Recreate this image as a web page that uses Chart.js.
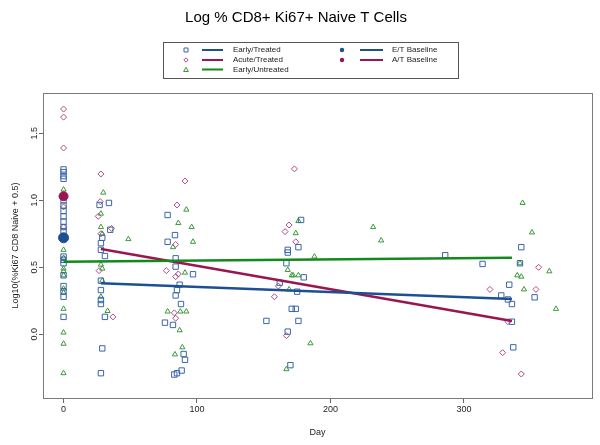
<!DOCTYPE html>
<html>
<head>
<meta charset="utf-8">
<script src="https://cdn.jsdelivr.net/npm/chart.js@4.4.0/dist/chart.umd.min.js"></script>
<style>
  html, body { margin: 0; padding: 0; background: #fff; }
</style>
</head>
<body>
<canvas id="c" width="600" height="445"></canvas>
<script>
// Early/Treated (blue squares)
const etDays = [0,0,0,0,0,0,0,0,0,0,0,0,0,0,0,0,0,0,0,
  27,34,35,29,28,28,31,28,28,28,28,31,29,28,
  78,83.5,78,84,84,97,87,85,84,88,76,82,90,91,88.5,85,83,
  178,176,168,168,167,180,162,175,171,174,152,176,168,170,
  286,314,342,343,334,328,353,333,336,336,337];
const etVals = [1.23,1.21,1.18,1.16,1.00,0.96,0.92,0.88,0.84,0.80,0.77,0.58,0.556,0.53,0.44,0.36,0.32,0.28,0.13,
  0.965,0.98,0.78,0.72,0.68,0.63,0.584,0.40,0.33,0.256,0.226,0.13,-0.105,-0.29,
  0.89,0.74,0.69,0.567,0.505,0.448,0.37,0.33,0.29,0.226,0.087,0.07,-0.147,-0.19,-0.27,-0.29,-0.30,
  0.853,0.65,0.63,0.61,0.53,0.425,0.385,0.318,0.19,0.19,0.10,0.10,0.02,-0.23,
  0.59,0.525,0.53,0.65,0.37,0.29,0.276,0.26,0.226,0.094,-0.097];

// Acute/Treated (red diamonds)
const atDays = [0,0,0,0,0,0,
  28,27.5,26,36,28,26.6,37,
  91,85,84,77,86,84,83,84,
  173,169,166,174,161,158,167,
  356,319.5,354,333,329,343];
const atVals = [1.68,1.62,1.39,1.03,0.95,0.80,
  1.196,0.99,0.88,0.79,0.75,0.475,0.13,
  1.144,0.965,0.67,0.475,0.45,0.43,0.16,0.12,
  1.234,0.815,0.766,0.69,0.36,0.28,-0.01,
  0.50,0.335,0.335,0.094,-0.137,-0.296];

// Early/Untreated (green triangles)
const euDays = [0,0,0,0,0,0,0,0,0,0,0,0,
  29.8,28,28,29,48.6,28,29,29,28,33,
  92,86,96,97,82,91,78,87.5,92,87,89,83.5,
  176,174,188,168,171,172,176,169,185,167,
  232,238,344,351,342,364,340,343,345,369];
const euVals = [1.08,0.63,0.57,0.49,0.47,0.44,0.34,0.31,0.19,0.013,-0.07,-0.29,
  1.057,0.90,0.80,0.75,0.71,0.52,0.49,0.40,0.28,0.174,
  0.93,0.83,0.80,0.69,0.65,0.46,0.17,0.17,0.17,0.03,-0.097,-0.15,
  0.845,0.754,0.58,0.48,0.44,0.44,0.44,0.335,-0.067,-0.26,
  0.80,0.70,0.98,0.76,0.53,0.47,0.44,0.43,0.335,0.19];

// fitted lines
const euFitDays = [0, 336];
const euFitVals = [0.542, 0.572];
const etFitDays = [28, 336];
const etFitVals = [0.38, 0.263];
const atFitDays = [28, 336];
const atFitVals = [0.637, 0.10];

// baselines
const etBaseline = [0, 0.72];
const atBaseline = [0, 1.03];

const xTicks = [0, 100, 200, 300];
const yTicks = [0, 0.5, 1.0, 1.5];

const legendLabels = ['Early/Treated', 'Acute/Treated', 'Early/Untreated'];
const baselineLabels = ['E/T Baseline', 'A/T Baseline'];

const BLUE = '#1d4f93', BLUE_PT = '#3b66a8';
const RED = '#9a1650', RED_PT = '#b04a86';
const GREEN = '#12891b', GREEN_PT = '#3a9a3a';
const FONT = '"Liberation Sans", Arial, sans-serif';

const toXY = (xs, ys) => xs.map((x, i) => ({ x: x, y: ys[i] }));

// frame around plot area + hand drawn legend box
const frameAndLegend = {
  id: 'frameAndLegend',
  afterDatasetsDraw(chart) {
    const { ctx, chartArea: a } = chart;
    ctx.save();
    ctx.strokeStyle = '#7a7a7a';
    ctx.lineWidth = 1;
    ctx.strokeRect(Math.round(a.left) + 0.5, Math.round(a.top) + 0.5,
      Math.round(a.right - a.left), Math.round(a.bottom - a.top));
    ctx.restore();
  },
  afterDraw(chart) {
    const ctx = chart.ctx;
    ctx.save();
    ctx.strokeStyle = '#555';
    ctx.lineWidth = 1;
    ctx.strokeRect(163.5, 42.5, 295, 36);

    const rows = [50, 60, 69.5];
    const styles = [
      { c: BLUE_PT, lc: BLUE, s: 'rect' },
      { c: RED_PT, lc: RED, s: 'rectRot' },
      { c: GREEN_PT, lc: GREEN, s: 'triangle' }
    ];
    ctx.font = '8px ' + FONT;
    ctx.textBaseline = 'middle';
    legendLabels.forEach((lab, i) => {
      const y = rows[i];
      const st = styles[i];
      // marker
      ctx.strokeStyle = st.c;
      ctx.lineWidth = 1;
      ctx.beginPath();
      if (st.s === 'rect') ctx.rect(184, y - 2, 4, 4);
      if (st.s === 'rectRot') { ctx.moveTo(186, y - 2.2); ctx.lineTo(188.2, y); ctx.lineTo(186, y + 2.2); ctx.lineTo(183.8, y); ctx.closePath(); }
      if (st.s === 'triangle') { ctx.moveTo(186, y - 2.2); ctx.lineTo(188.4, y + 2); ctx.lineTo(183.6, y + 2); ctx.closePath(); }
      ctx.stroke();
      // line sample
      ctx.strokeStyle = st.lc;
      ctx.lineWidth = 2;
      ctx.beginPath();
      ctx.moveTo(202, y); ctx.lineTo(223, y);
      ctx.stroke();
      ctx.fillStyle = '#222';
      ctx.fillText(lab, 233, y);
    });
    const bcol = [BLUE, RED];
    baselineLabels.forEach((lab, i) => {
      const y = rows[i];
      ctx.fillStyle = bcol[i];
      ctx.beginPath();
      ctx.arc(342, y, 2.2, 0, Math.PI * 2);
      ctx.fill();
      ctx.strokeStyle = bcol[i];
      ctx.lineWidth = 2;
      ctx.beginPath();
      ctx.moveTo(360, y); ctx.lineTo(383, y);
      ctx.stroke();
      ctx.fillStyle = '#222';
      ctx.fillText(lab, 392, y);
    });
    ctx.restore();
  }
};

new Chart(document.getElementById('c'), {
  type: 'scatter',
  data: {
    datasets: [
      { label: 'E/T Baseline', data: [{ x: etBaseline[0], y: etBaseline[1] }], order: 0,
        pointStyle: 'circle', pointRadius: 5, backgroundColor: BLUE, borderColor: BLUE },
      { label: 'A/T Baseline', data: [{ x: atBaseline[0], y: atBaseline[1] }], order: 0,
        pointStyle: 'circle', pointRadius: 4.5, backgroundColor: RED, borderColor: RED },
      { type: 'line', label: 'Early/Untreated fit', data: toXY(euFitDays, euFitVals), order: 1,
        borderColor: GREEN, borderWidth: 2.5, pointRadius: 0, fill: false },
      { type: 'line', label: 'Early/Treated fit', data: toXY(etFitDays, etFitVals), order: 1,
        borderColor: BLUE, borderWidth: 2.5, pointRadius: 0, fill: false },
      { type: 'line', label: 'Acute/Treated fit', data: toXY(atFitDays, atFitVals), order: 1,
        borderColor: RED, borderWidth: 2.5, pointRadius: 0, fill: false },
      { label: 'Early/Treated', data: toXY(etDays, etVals), order: 2,
        pointStyle: 'rect', pointRadius: 3.8, borderWidth: 1, borderColor: BLUE_PT, backgroundColor: 'rgba(0,0,0,0)' },
      { label: 'Acute/Treated', data: toXY(atDays, atVals), order: 2,
        pointStyle: 'rectRot', pointRadius: 3, borderWidth: 1, borderColor: RED_PT, backgroundColor: 'rgba(0,0,0,0)' },
      { label: 'Early/Untreated', data: toXY(euDays, euVals), order: 2,
        pointStyle: 'triangle', pointRadius: 3, borderWidth: 1, borderColor: GREEN_PT, backgroundColor: 'rgba(0,0,0,0)' }
    ]
  },
  options: {
    responsive: false,
    animation: false,
    layout: { padding: { left: 0, right: 8, top: 0, bottom: 0 } },
    plugins: {
      legend: { display: false },
      tooltip: { enabled: false },
      title: {
        display: true,
        text: 'Log % CD8+ Ki67+ Naive T Cells',
        color: '#000',
        font: { family: FONT, size: 15, weight: 'normal', lineHeight: 1.2 },
        padding: { top: 9, bottom: 66 }
      }
    },
    scales: {
      x: {
        type: 'linear',
        min: -15.4,
        max: 396,
        afterFit: (s) => { s.height = 47; },
        afterBuildTicks: (s) => { s.ticks = xTicks.map(v => ({ value: v })); },
        border: { display: false },
        grid: { drawOnChartArea: false, drawTicks: true, tickLength: 5, color: '#666' },
        ticks: { color: '#222', font: { family: FONT, size: 9 }, padding: 1, maxRotation: 0 },
        title: { display: true, text: 'Day', color: '#222', font: { family: FONT, size: 9 }, padding: { top: 0, bottom: 7 } }
      },
      y: {
        type: 'linear',
        min: -0.475,
        max: 1.80,
        afterFit: (s) => { s.width = 43; },
        afterBuildTicks: (s) => { s.ticks = yTicks.map(v => ({ value: v })); },
        border: { display: false },
        grid: { drawOnChartArea: false, drawTicks: true, tickLength: 4, color: '#666' },
        ticks: {
          color: '#222', font: { family: FONT, size: 9 }, padding: -2,
          minRotation: 90, maxRotation: 90, crossAlign: 'center',
          callback: (v) => Number(v).toFixed(1)
        },
        title: { display: true, text: 'Log10(%Ki67 CD8 Naive + 0.5)', color: '#222', font: { family: FONT, size: 9 }, padding: { top: 10, bottom: 0 } }
      }
    }
  },
  plugins: [frameAndLegend]
});
</script>
</body>
</html>
